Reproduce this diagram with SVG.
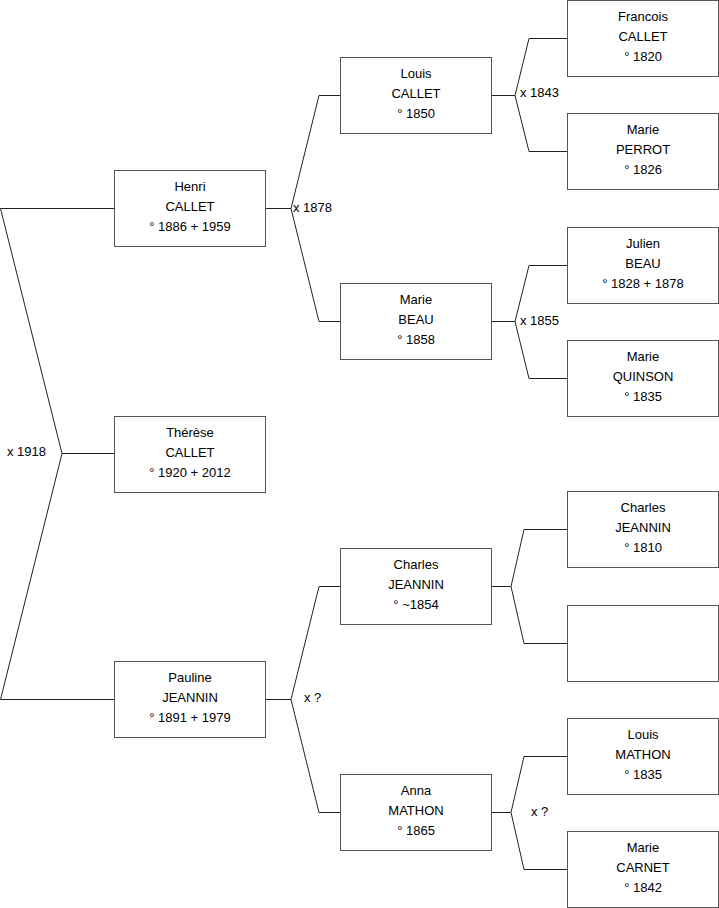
<svg xmlns="http://www.w3.org/2000/svg" width="719" height="908" viewBox="0 0 719 908">
<style>
.box{fill:#fff;stroke:#555;stroke-width:1}
.t{font-family:"Liberation Sans",Arial,sans-serif;font-size:13px;fill:#000;text-anchor:middle}
.l{font-family:"Liberation Sans",Arial,sans-serif;font-size:13px;fill:#000}
.c{fill:none;stroke:#222;stroke-width:1}
</style>
<rect width="719" height="908" fill="#fff"/>
<g id="connectors">
<polyline class="c" points="114,208.5 0.5,208.5 62,453.5 0.5,699.5 114,699.5"/>
<line class="c" x1="62" y1="453.5" x2="114" y2="453.5"/>
<polyline class="c" points="340,95.5 319,95.5 291,208.5 319,321.5 340,321.5"/>
<line class="c" x1="265" y1="208.5" x2="291" y2="208.5"/>
<polyline class="c" points="340,586.5 319,586.5 291,699.5 319,812.5 340,812.5"/>
<line class="c" x1="265" y1="699.5" x2="291" y2="699.5"/>
<polyline class="c" points="567,38.5 529,38.5 515,95.5 529,151.5 567,151.5"/>
<line class="c" x1="492" y1="95.5" x2="515" y2="95.5"/>
<polyline class="c" points="567,265.5 529,265.5 515,321.5 529,378.5 567,378.5"/>
<line class="c" x1="492" y1="321.5" x2="515" y2="321.5"/>
<polyline class="c" points="567,529.5 524,529.5 511,586.5 524,643.5 567,643.5"/>
<line class="c" x1="492" y1="586.5" x2="511" y2="586.5"/>
<polyline class="c" points="567,756.5 524,756.5 511,812.5 524,869.5 567,869.5"/>
<line class="c" x1="492" y1="812.5" x2="511" y2="812.5"/>
<text class="l" x="7" y="456">x 1918</text>
<text class="l" x="293" y="212">x 1878</text>
<text class="l" x="304" y="702">x ?</text>
<text class="l" x="520" y="96.5">x 1843</text>
<text class="l" x="520" y="325">x 1855</text>
<text class="l" x="531" y="815.5">x ?</text>
</g>
<g id="henri"><rect class="box" x="114.5" y="170.5" width="151" height="76"/>
<text class="t" x="190" y="191">Henri</text><text class="t" x="190" y="211">CALLET</text><text class="t" x="190" y="231">° 1886 + 1959</text></g>
<g id="therese"><rect class="box" x="114.5" y="416.5" width="151" height="76"/>
<text class="t" x="190" y="437">Thérèse</text><text class="t" x="190" y="457">CALLET</text><text class="t" x="190" y="477">° 1920 + 2012</text></g>
<g id="pauline"><rect class="box" x="114.5" y="661.5" width="151" height="76"/>
<text class="t" x="190" y="682">Pauline</text><text class="t" x="190" y="702">JEANNIN</text><text class="t" x="190" y="722">° 1891 + 1979</text></g>
<g id="louis"><rect class="box" x="340.5" y="57.5" width="151" height="76"/>
<text class="t" x="416" y="78">Louis</text><text class="t" x="416" y="98">CALLET</text><text class="t" x="416" y="118">° 1850</text></g>
<g id="mariebeau"><rect class="box" x="340.5" y="283.5" width="151" height="76"/>
<text class="t" x="416" y="304">Marie</text><text class="t" x="416" y="324">BEAU</text><text class="t" x="416" y="344">° 1858</text></g>
<g id="charles1854"><rect class="box" x="340.5" y="548.5" width="151" height="76"/>
<text class="t" x="416" y="569">Charles</text><text class="t" x="416" y="589">JEANNIN</text><text class="t" x="416" y="609">° ~1854</text></g>
<g id="anna"><rect class="box" x="340.5" y="774.5" width="151" height="76"/>
<text class="t" x="416" y="795">Anna</text><text class="t" x="416" y="815">MATHON</text><text class="t" x="416" y="835">° 1865</text></g>
<g id="francois"><rect class="box" x="567.5" y="0.5" width="151" height="76"/>
<text class="t" x="643" y="21">Francois</text><text class="t" x="643" y="41">CALLET</text><text class="t" x="643" y="61">° 1820</text></g>
<g id="marieperrot"><rect class="box" x="567.5" y="113.5" width="151" height="76"/>
<text class="t" x="643" y="133.5">Marie</text><text class="t" x="643" y="153.5">PERROT</text><text class="t" x="643" y="173.5">° 1826</text></g>
<g id="julien"><rect class="box" x="567.5" y="227.5" width="151" height="76"/>
<text class="t" x="643" y="247.5">Julien</text><text class="t" x="643" y="267.5">BEAU</text><text class="t" x="643" y="287.5">° 1828 + 1878</text></g>
<g id="mariequinson"><rect class="box" x="567.5" y="340.5" width="151" height="76"/>
<text class="t" x="643" y="360.5">Marie</text><text class="t" x="643" y="380.5">QUINSON</text><text class="t" x="643" y="400.5">° 1835</text></g>
<g id="charles1810"><rect class="box" x="567.5" y="491.5" width="151" height="76"/>
<text class="t" x="643" y="511.5">Charles</text><text class="t" x="643" y="531.5">JEANNIN</text><text class="t" x="643" y="551.5">° 1810</text></g>
<g id="empty"><rect class="box" x="567.5" y="605.5" width="151" height="76"/></g>
<g id="louismathon"><rect class="box" x="567.5" y="718.5" width="151" height="76"/>
<text class="t" x="643" y="738.5">Louis</text><text class="t" x="643" y="758.5">MATHON</text><text class="t" x="643" y="778.5">° 1835</text></g>
<g id="mariecarnet"><rect class="box" x="567.5" y="831.5" width="151" height="76"/>
<text class="t" x="643" y="851.5">Marie</text><text class="t" x="643" y="871.5">CARNET</text><text class="t" x="643" y="891.5">° 1842</text></g>
</svg>
